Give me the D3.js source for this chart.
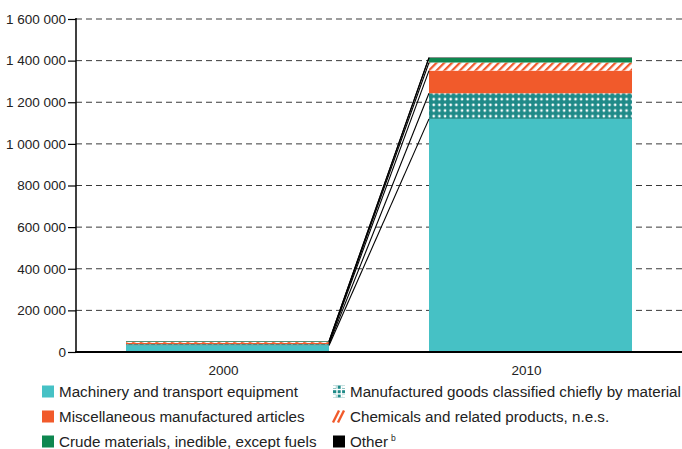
<!DOCTYPE html>
<html>
<head>
<meta charset="utf-8">
<script src="https://cdn.jsdelivr.net/npm/d3@7"></script>
<style>
  html, body { margin: 0; padding: 0; background: #fff; }
  svg { display: block; font-family: "Liberation Sans", Arial, sans-serif; }
</style>
</head>
<body>
<svg id="chart" width="682" height="449"></svg>
<script>
// Years on the x axis
const years = ["2000", "2010"];

// Product groups, stacked bottom to top
const seriesNames = [
  "Machinery and transport equipment",
  "Manufactured goods classified chiefly by material",
  "Miscellaneous manufactured articles",
  "Chemicals and related products, n.e.s.",
  "Crude materials, inedible, except fuels",
  "Other"
];

// Values per series, one entry per year
const machinery    = [31000, 1120000];
const manufactured = [7000, 123000];
const miscellaneous = [6000, 109000];
const chemicals    = [4000, 39000];
const crude        = [3000, 22000];
const other        = [1000, 2000];

const yTicks = [0, 200000, 400000, 600000, 800000, 1000000, 1200000, 1400000, 1600000];

const seriesValues = [machinery, manufactured, miscellaneous, chemicals, crude, other];

const colors = {
  cyan: "#46c1c5",
  teal: "#1f8a88",
  orange: "#f15a2b",
  green: "#0e8750",
  black: "#000000"
};

const svg = d3.select("#chart");
const margin = { left: 76, right: 682, top: 19, bottom: 352 };

const rows = years.map((yr, i) => {
  const r = { year: yr };
  seriesNames.forEach((s, k) => r[s] = seriesValues[k][i]);
  return r;
});

const stacked = d3.stack().keys(seriesNames)(rows);

const x = d3.scaleBand().domain(years).range([margin.left, margin.right])
  .paddingInner(0.33).paddingOuter(0.165);
const y = d3.scaleLinear().domain([0, 1600000]).range([margin.bottom, margin.top]);

// Patterns
const defs = svg.append("defs");
const dots = defs.append("pattern").attr("id", "dots")
  .attr("patternUnits", "userSpaceOnUse").attr("width", 5.67).attr("height", 5.67);
dots.append("rect").attr("width", 5.67).attr("height", 5.67).attr("fill", colors.teal);
dots.append("circle").attr("cx", 2.8).attr("cy", 2.8).attr("r", 1.35).attr("fill", "#fff");

const hatch = defs.append("pattern").attr("id", "hatch")
  .attr("patternUnits", "userSpaceOnUse").attr("width", 5.5).attr("height", 5.5)
  .attr("patternTransform", "rotate(45)");
hatch.append("rect").attr("width", 5.5).attr("height", 5.5).attr("fill", "#fff");
hatch.append("rect").attr("x", 0).attr("width", 2.2).attr("height", 5.5).attr("fill", colors.orange);

const fills = [colors.cyan, "url(#dots)", colors.orange, "url(#hatch)", colors.green, colors.black];

// Gridlines
const fmt = d3.formatLocale({ decimal: ".", thousands: " ", grouping: [3], currency: ["", ""] }).format(",d");
svg.append("g").selectAll("line").data(yTicks.filter(d => d > 0)).join("line")
  .attr("x1", margin.left).attr("x2", margin.right)
  .attr("y1", d => y(d)).attr("y2", d => y(d))
  .attr("stroke", "#3a3a3a").attr("stroke-width", 1).attr("stroke-dasharray", "6,4");

// Bars
const layers = svg.append("g").selectAll("g").data(stacked).join("g")
  .attr("fill", (d, i) => fills[i]);
layers.selectAll("rect").data(d => d).join("rect")
  .attr("x", d => x(d.data.year))
  .attr("width", x.bandwidth())
  .attr("y", d => y(d[1]))
  .attr("height", d => y(d[0]) - y(d[1]));

// Connectors between the tops of each segment
const x0 = x(years[0]) + x.bandwidth();
const x1 = x(years[1]);
svg.append("g").selectAll("line").data(stacked).join("line")
  .attr("x1", x0).attr("y1", d => y(d[0][1]))
  .attr("x2", x1).attr("y2", d => y(d[1][1]))
  .attr("stroke", "#000").attr("stroke-width", 1.1);

// Y axis
const yAxis = svg.append("g").attr("transform", `translate(${margin.left},0)`)
  .call(d3.axisLeft(y).tickValues(yTicks).tickFormat(fmt).tickSize(8).tickPadding(2));
yAxis.select(".domain").attr("stroke", "#000").attr("stroke-width", 1.5)
  .attr("d", `M0,${margin.top - 1}V${margin.bottom}`);
yAxis.selectAll(".tick line").attr("stroke", "#000").attr("stroke-width", 1.2);
yAxis.selectAll(".tick text").attr("fill", "#222").style("font-size", "13.5px")
  .style("font-family", "'Liberation Sans', Arial, sans-serif");

// X axis baseline and labels
svg.append("line").attr("x1", margin.left - 1).attr("x2", margin.right)
  .attr("y1", margin.bottom).attr("y2", margin.bottom)
  .attr("stroke", "#000").attr("stroke-width", 2);
svg.append("g").selectAll("text").data(years).join("text")
  .attr("x", d => x(d) + x.bandwidth() / 2 - 4)
  .attr("y", 374.5)
  .attr("text-anchor", "middle")
  .attr("fill", "#222").style("font-size", "13.5px")
  .text(d => d);

// Legend
const legendItems = [
  { name: seriesNames[0], col: 0, row: 0, kind: "solid", fill: colors.cyan },
  { name: seriesNames[1], col: 1, row: 0, kind: "grid", fill: colors.teal },
  { name: seriesNames[2], col: 0, row: 1, kind: "solid", fill: colors.orange },
  { name: seriesNames[3], col: 1, row: 1, kind: "hatch", fill: colors.orange },
  { name: seriesNames[4], col: 0, row: 2, kind: "solid", fill: colors.green },
  { name: seriesNames[5], col: 1, row: 2, kind: "solid", fill: colors.black, sup: "b" }
];
const colX = [42, 333];
const rowY = [391.5, 416.5, 441.5];
const lg = svg.append("g");
legendItems.forEach(it => {
  const gx = colX[it.col], gy = rowY[it.row];
  const g = lg.append("g").attr("transform", `translate(${gx},${gy - 6})`);
  if (it.kind === "solid") {
    g.append("rect").attr("width", 12).attr("height", 12).attr("fill", it.fill);
  } else if (it.kind === "grid") {
    g.append("rect").attr("width", 12).attr("height", 12).attr("fill", it.fill);
    [3.3, 7.7].forEach(p => {
      g.append("rect").attr("x", p).attr("y", 0).attr("width", 1.4).attr("height", 12).attr("fill", "#fff");
      g.append("rect").attr("x", 0).attr("y", p).attr("width", 12).attr("height", 1.4).attr("fill", "#fff");
    });
    [[0, 0], [9.1, 0], [0, 9.1], [9.1, 9.1]].forEach(([a, b]) =>
      g.append("rect").attr("x", a).attr("y", b).attr("width", 2.9).attr("height", 2.9).attr("fill", "#fff"));
  } else if (it.kind === "hatch") {
    [0, 5].forEach(o => {
      g.append("line").attr("x1", o).attr("y1", 12).attr("x2", o + 6).attr("y2", 0)
        .attr("stroke", it.fill).attr("stroke-width", 2.4);
    });
  }
  const t = lg.append("text").attr("x", gx + 17).attr("y", gy + 5)
    .attr("fill", "#222").style("font-size", "15.2px").text(it.name);
  if (it.sup) {
    t.append("tspan").attr("dx", 3).attr("dy", -6).style("font-size", "8.5px").text(it.sup);
  }
});
</script>
</body>
</html>
